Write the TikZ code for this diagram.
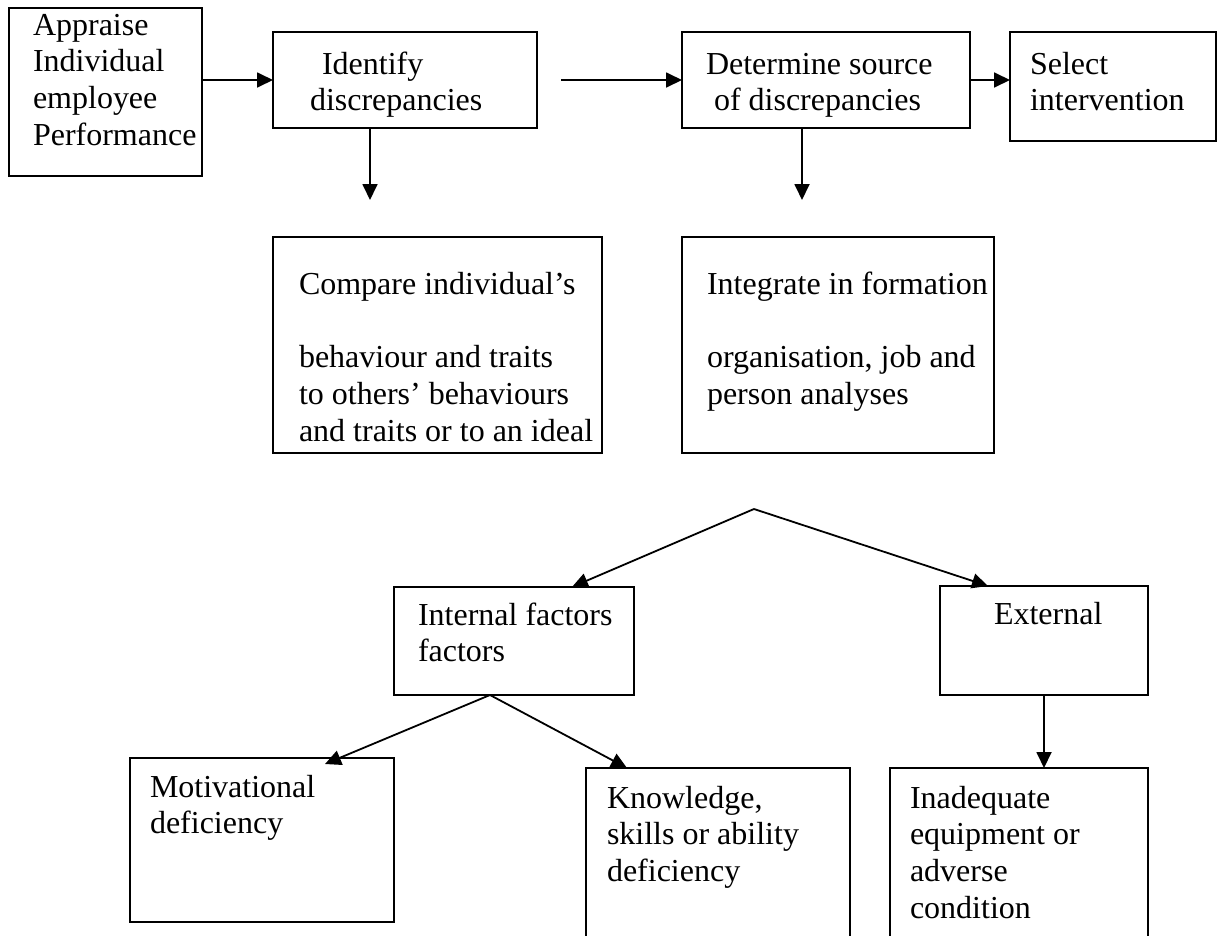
\documentclass[tikz,border=0pt]{standalone}
\usepackage{fontspec}
\setmainfont{Liberation Serif}
\usetikzlibrary{arrows.meta}
\begin{document}
\begin{tikzpicture}[x=1pt,y=-1pt,
  box/.style={draw, line width=2pt, inner sep=0pt, outer sep=0pt, anchor=north west},
  lbl/.style={anchor=base west, inner sep=0pt, outer sep=0pt, align=left, font=\fontsize{32}{36.8}\selectfont},
  arr/.style={line width=1.8pt, -{Triangle[length=16pt,width=15pt]}}]
\useasboundingbox (0,0) rectangle (1221,935);
% boxes
\node[box, minimum width=193pt, minimum height=168pt] (app) at (9,8) {};
\node[box, minimum width=264pt, minimum height=96pt] (ide) at (273,32) {};
\node[box, minimum width=288pt, minimum height=96pt] (det) at (682,32) {};
\node[box, minimum width=206pt, minimum height=109pt] (sel) at (1010,32) {};
\node[box, minimum width=329pt, minimum height=216pt] (cmp) at (273,237) {};
\node[box, minimum width=312pt, minimum height=216pt] (intg) at (682,237) {};
\node[box, minimum width=240pt, minimum height=108pt] (int) at (394,587) {};
\node[box, minimum width=208pt, minimum height=109pt] (ext) at (940,586) {};
\node[box, minimum width=264pt, minimum height=164pt] (mot) at (130,758) {};
\node[box, minimum width=264pt, minimum height=175pt] (kno) at (586,768) {};
\node[box, minimum width=258pt, minimum height=175pt] (ina) at (890,768) {};
% texts (anchored at the baseline of their last line)
\node[lbl] (tapp) at (33,145.4) {Appraise\\Individual\\employee\\Performance};
\node[lbl] (tide) at (310,110.8) {\hspace*{12pt}Identify\\discrepancies};
\node[lbl] (tdet) at (706,110.8) {Determine source\\\hspace*{8pt}of discrepancies};
\node[lbl] (tsel) at (1030,110.8) {Select\\intervention};
\node[lbl] (tcmp) at (299,441.4) {Compare individual’s\\[37pt]behaviour and traits\\to others’ behaviours\\and traits or to an ideal};
\node[lbl] (tintg) at (707,404.6) {Integrate in formation\\[37pt]organisation, job and\\person analyses};
\node[lbl] (tint) at (418,661.8) {Internal factors\\factors};
\node[lbl] (text) at (994,624) {External};
\node[lbl] (tmot) at (150,833.8) {Motivational\\deficiency};
\node[lbl] (tkno) at (607,881.6) {Knowledge,\\skills or ability\\deficiency};
\node[lbl] (tina) at (910,918.4) {Inadequate\\equipment or\\adverse\\condition};
% connectors
\draw[arr] (app.east |- ide.west) -- (ide.west);
\coordinate (fs) at (561,80);
\draw[arr] (fs) -- (det.west);
\draw[arr] (det.east) -- (det.east -| sel.west);
\coordinate (d1) at (370,200);
\draw[arr] (ide.south -| d1) -- (d1);
\coordinate (d2) at (802,200);
\draw[arr] (det.south -| d2) -- (d2);
\coordinate (apex) at (754,509);
\draw[arr] (apex) -- ([xshift=58pt]int.north);
\draw[arr] (apex) -- ([xshift=-56pt]ext.north);
\draw[arr] ([xshift=-24pt]int.south) -- ([xshift=63pt,yshift=-6pt]mot.north);
\draw[arr] ([xshift=-24pt]int.south) -- ([xshift=-91pt]kno.north);
\draw[arr] (ext.south) -- (ext.south |- ina.north);
\end{tikzpicture}
\end{document}
